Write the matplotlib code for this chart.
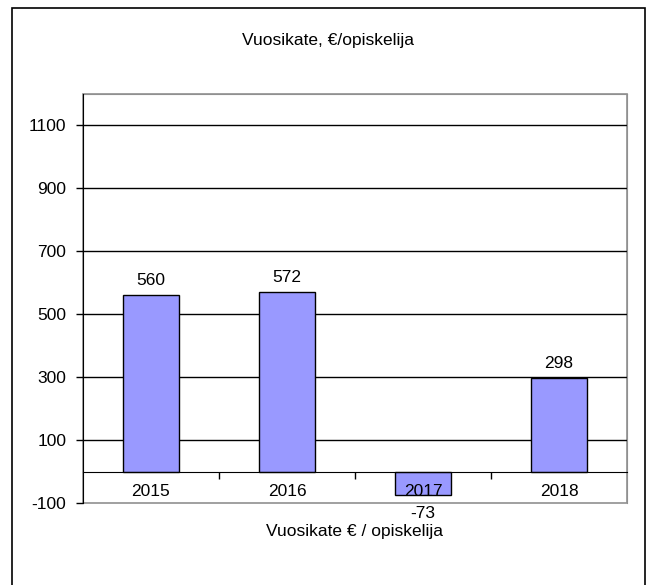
import numpy as np
import matplotlib
matplotlib.use("Agg")
import matplotlib.pyplot as plt
from matplotlib.patches import Rectangle

# data
years = ["2015", "2016", "2017", "2018"]
values = [560, 572, -73, 298]
yticks = [-100, 100, 300, 500, 700, 900, 1100]

plt.rcParams['font.family'] = ['Liberation Sans', 'DejaVu Sans']
plt.rcParams['font.size'] = 12.5
plt.rcParams['axes.unicode_minus'] = False

W, H = 649, 585
fig = plt.figure(figsize=(W / 100, H / 100), dpi=100)
ax = fig.add_axes([83 / W, 82 / H, 544 / W, 409 / H])

x = np.arange(len(years))
for y in yticks[1:]:
    ax.axhline(y, color='black', lw=1, zorder=1)
ax.bar(x, values, width=0.41, color='#9999ff', edgecolor='black', lw=1, zorder=3)

ax.set_xlim(-0.5, len(years) - 0.5)
ax.set_ylim(-100, 1200)
ax.set_yticks(yticks)
ax.tick_params(axis='y', length=5, width=1, pad=7)

# category axis crosses at zero, labels drawn over the bars
ax.spines['bottom'].set_position(('data', 0))
ax.spines['bottom'].set_color('black')
ax.set_xticks(x)
ax.set_xticklabels(years)
ax.tick_params(axis='x', which='major', length=0, pad=9)
ax.set_xticks(x[:-1] + 0.5, minor=True)
ax.tick_params(axis='x', which='minor', length=5, width=1, direction='out')
ax.xaxis.set_zorder(4)
ax.spines['bottom'].set_zorder(4)

for s in ['top', 'right']:
    ax.spines[s].set_color('#909090')
ax.add_patch(Rectangle((0, 0), 1, 1, transform=ax.transAxes, fill=False,
                       edgecolor='#909090', lw=1.2, clip_on=False, zorder=0.5))
ax.spines['left'].set_zorder(5)

# value labels
for xi, v in zip(x, values):
    if v >= 0:
        ax.annotate(str(v), (xi, v), xytext=(0, 5), textcoords='offset points',
                    ha='center', va='bottom')
    else:
        ax.annotate(str(v), (xi, -100), xytext=(0, -2), textcoords='offset points',
                    ha='center', va='top', annotation_clip=False)

ax.annotate("Vuosikate € / opiskelija", (0.5, 0), xycoords='axes fraction',
            xytext=(0, -15), textcoords='offset points', ha='center', va='top')

fig.text(328 / W, 1 - 40 / H, "Vuosikate, €/opiskelija", ha='center', va='center')

# outer chart frame
fig.patches.append(Rectangle((12 / W, -0.02), 633 / W, 1 - 8 / H + 0.02, transform=fig.transFigure,
                             fill=False, edgecolor='black', lw=1.2))

fig.savefig("out.png", dpi=100)
